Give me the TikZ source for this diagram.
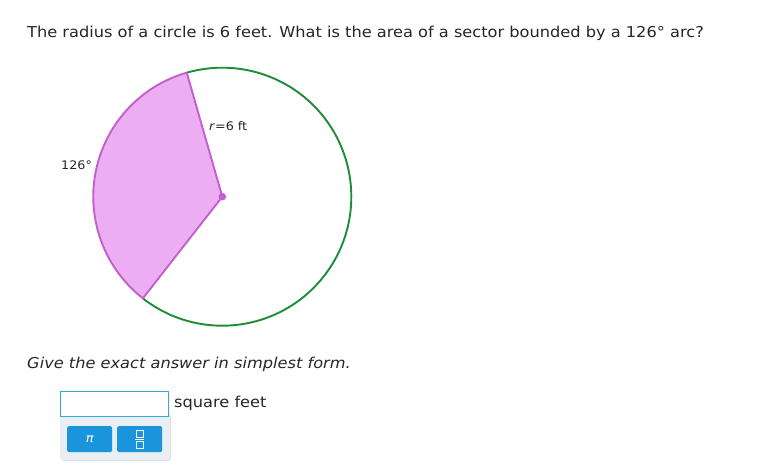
\documentclass[tikz,border=0pt]{standalone}
\usepackage{fontspec}
\setmainfont[FakeStretch=1.08]{DejaVu Sans}
\begin{document}
\begin{tikzpicture}[x=1pt,y=1pt,
  bigtext/.style={font=\fontsize{15}{18}\selectfont, inner sep=0pt, text=black!85},
  smalltext/.style={font=\fontsize{11.8}{14}\selectfont, inner sep=0pt, text=black!85},
  btn/.style={fill=btnblue, rounded corners=1.5pt}]
\definecolor{circgreen}{HTML}{1E8C3A}
\definecolor{secfill}{HTML}{ECADF2}
\definecolor{secline}{HTML}{C45FCF}
\definecolor{btnblue}{HTML}{1A95DB}
\definecolor{boxblue}{HTML}{3AA6D6}
\definecolor{panel}{HTML}{E9EEF2}
\useasboundingbox (0,0) rectangle (764,476);
\fill[white] (0,0) rectangle (764,476);
% title
\node[bigtext, anchor=base west] (title) at (27,438) {The radius of a circle is 6 feet. What is the area of a sector bounded by a 126° arc?};
% circle
\coordinate (C) at (222.3,279.3);
\fill[secfill] (C) -- ++(106:129) arc[start angle=106, end angle=232, radius=129] -- cycle;
\draw[circgreen, line width=1.9pt] (C) ++(232:129) arc[start angle=232, end angle=466, radius=129];
\draw[secline, line width=1.9pt, line join=round] (C) -- ++(106:129) arc[start angle=106, end angle=232, radius=129] -- cycle;
\fill[secline] (C) circle (3.8);
\node[smalltext, anchor=base west] (rlab) at (209,345) {\textit{r}=6 ft};
\node[smalltext, anchor=base west] (alab) at (61,306) {126°};
% instruction
\node[bigtext, anchor=base west] (instr) at (27,107) {\itshape Give the exact answer in simplest form.};
% answer box
\fill[black!12, rounded corners=3pt] (61,15) rectangle (171,62);
\fill[panel, rounded corners=3pt] (60,16) rectangle (170,62);
\node[draw=boxblue, line width=0.8pt, fill=white, minimum width=108pt, minimum height=25pt, inner sep=0pt, anchor=north west] (box) at (60,85) {};
\node[bigtext, anchor=base west] (unit) at (174,68) {square feet};
\node[btn, minimum width=45pt, minimum height=26pt, inner sep=0pt, anchor=north west, text=white, font=\fontsize{12}{14}\selectfont\itshape] (pi) at (67,50) {π};
\node[btn, minimum width=45pt, minimum height=26pt, inner sep=0pt, anchor=north west] (frac) at (117,50) {};
\draw[white, line width=0.8pt] ([xshift=-3.5pt,yshift=2pt]frac.center) rectangle ([xshift=3.5pt,yshift=9pt]frac.center);
\draw[white, line width=0.8pt] ([xshift=-3.5pt,yshift=-2pt]frac.center) rectangle ([xshift=3.5pt,yshift=-9pt]frac.center);
\draw[white, line width=0.8pt] ([xshift=-4.5pt]frac.center) -- ([xshift=4.5pt]frac.center);
\end{tikzpicture}
\end{document}
